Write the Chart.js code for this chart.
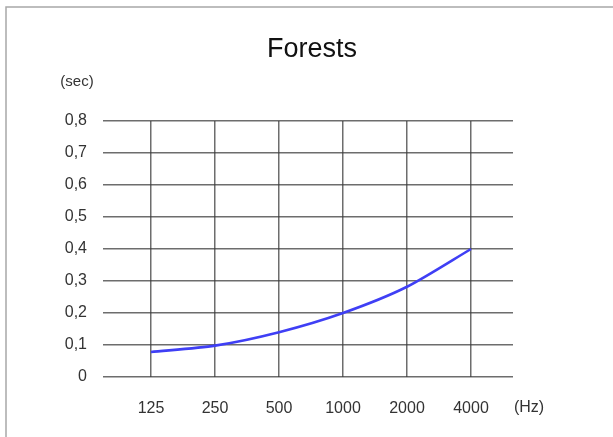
<!DOCTYPE html>
<html>
<head>
<meta charset="utf-8">
<script src="https://cdn.jsdelivr.net/npm/chart.js@4/dist/chart.umd.min.js"></script>
<style>
html,body{margin:0;padding:0;background:#fff;}
#wrap{position:relative;width:613px;height:437px;}
</style>
</head>
<body>
<div id="wrap"><canvas id="c" width="613" height="437"></canvas></div>
<script>
// ---- data ----
const categories = ['125', '250', '500', '1000', '2000', '4000'];
const reverbTime = [0.078, 0.098, 0.14, 0.2, 0.282, 0.4];
const yTickLabels = ['0', '0,1', '0,2', '0,3', '0,4', '0,5', '0,6', '0,7', '0,8'];
const titleText = 'Forests';
const yUnit = '(sec)';
const xUnit = '(Hz)';

const FONT = '"Liberation Sans", Arial, Helvetica, sans-serif';
const TXT = '#333333';

const extras = {
  id: 'extras',
  beforeDraw(chart) {
    const ctx = chart.ctx;
    ctx.save();
    ctx.fillStyle = '#ffffff';
    ctx.fillRect(0, 0, chart.width, chart.height);
    ctx.strokeStyle = '#a8a8a8';
    ctx.lineWidth = 1.5;
    ctx.beginPath();
    ctx.moveTo(6, 437);
    ctx.lineTo(6, 7);
    ctx.lineTo(613, 7);
    ctx.stroke();
    ctx.restore();
  },
  afterDraw(chart) {
    const ctx = chart.ctx;
    ctx.save();
    ctx.fillStyle = '#111111';
    ctx.font = '27px ' + FONT;
    ctx.textAlign = 'center';
    ctx.textBaseline = 'middle';
    ctx.fillText(titleText, 312, 50);
    ctx.fillStyle = TXT;
    ctx.font = '15px ' + FONT;
    ctx.fillText(yUnit, 77, 82);
    ctx.font = '16px ' + FONT;
    ctx.fillText(xUnit, 529, 408);
    ctx.restore();
  }
};

const chart = new Chart(document.getElementById('c'), {
  type: 'line',
  data: {
    datasets: [{
      data: categories.map((c, i) => ({x: i, y: reverbTime[i]})),
      borderColor: '#3f3ff5',
      borderWidth: 2.6,
      pointRadius: 0,
      fill: false,
      tension: 0.25
    }]
  },
  plugins: [extras],
  options: {
    responsive: false,
    animation: false,
    layout: {padding: {left: 0, right: 100, top: 121, bottom: 0}},
    plugins: {
      legend: {display: false},
      tooltip: {enabled: false},
      title: {display: false}
    },
    scales: {
      x: {
        type: 'linear',
        min: -0.75,
        max: 5.656,
        afterBuildTicks(s) { s.ticks = categories.map((c, i) => ({value: i})); },
        afterFit(s) { s.height = 60; },
        border: {display: false},
        grid: {color: 'rgba(60,60,60,0.75)', lineWidth: 1.5, drawTicks: false},
        ticks: {
          autoSkip: false,
          maxRotation: 0,
          padding: 22,
          color: TXT,
          font: {family: FONT, size: 16},
          callback: (v) => categories[v]
        }
      },
      y: {
        min: 0,
        max: 0.8,
        afterBuildTicks(s) { s.ticks = yTickLabels.map((t, i) => ({value: i / 10})); },
        afterFit(s) { s.width = 103; },
        border: {display: false},
        grid: {color: 'rgba(60,60,60,0.75)', lineWidth: 1.5, drawTicks: false},
        ticks: {
          padding: 16,
          color: TXT,
          font: {family: FONT, size: 16},
          callback: (v, i) => yTickLabels[i]
        }
      }
    }
  }
});
</script>
</body>
</html>
